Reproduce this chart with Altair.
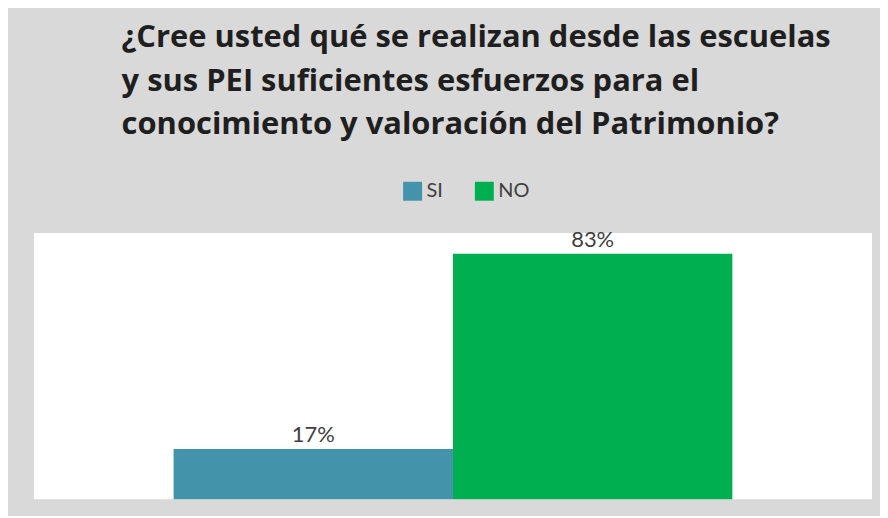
import altair as alt
import pandas as pd

categories = ["SI", "NO"]
values = [0.17, 0.83]
colors = ["#4393aa", "#00b050"]
title_lines = [
    "¿Cree usted qué se realizan desde las escuelas",
    "y sus PEI suficientes esfuerzos para el",
    "conocimiento y valoración del Patrimonio?",
]

df = pd.DataFrame({"cat": categories, "val": values})

x = alt.X("cat:N", sort=categories, axis=None,
          scale=alt.Scale(paddingInner=0, paddingOuter=0.5))
y = alt.Y("val:Q", axis=None, scale=alt.Scale(domain=[0, 0.9], nice=False, zero=True))

bars = alt.Chart(df).mark_bar().encode(
    x=x, y=y,
    color=alt.Color("cat:N", sort=categories,
                    scale=alt.Scale(domain=categories, range=colors),
                    legend=alt.Legend(title=None, orient="none", direction="horizontal",
                                      legendX=370, legendY=-52,
                                      symbolType="square", symbolSize=361,
                                      symbolStrokeWidth=0, labelFontSize=20,
                                      labelFont="Lato", labelColor="#404040",
                                      columnPadding=31, labelOffset=4)),
)

labels = alt.Chart(df).mark_text(dy=-14, fontSize=22, font="Lato", color="#404040").encode(
    x=x, y=y, text=alt.Text("val:Q", format=".0%")
)

chart = (bars + labels).properties(
    width=841, height=267,
    background="#d9d9d9",
    padding={"left": 26, "top": 225, "right": 8, "bottom": 16},
    autosize=alt.AutoSizeParams(type="none"),
    title=alt.TitleParams(
        text=title_lines, anchor="start", frame="group", dx=88,
        font="Open Sans", fontSize=31, fontWeight="bold", color="#1f1f1f",
        lineHeight=44, offset=40,
    ),
).configure_view(fill="white", stroke=None)

chart.save("out.html", embed_options={"renderer": "svg", "actions": False})
